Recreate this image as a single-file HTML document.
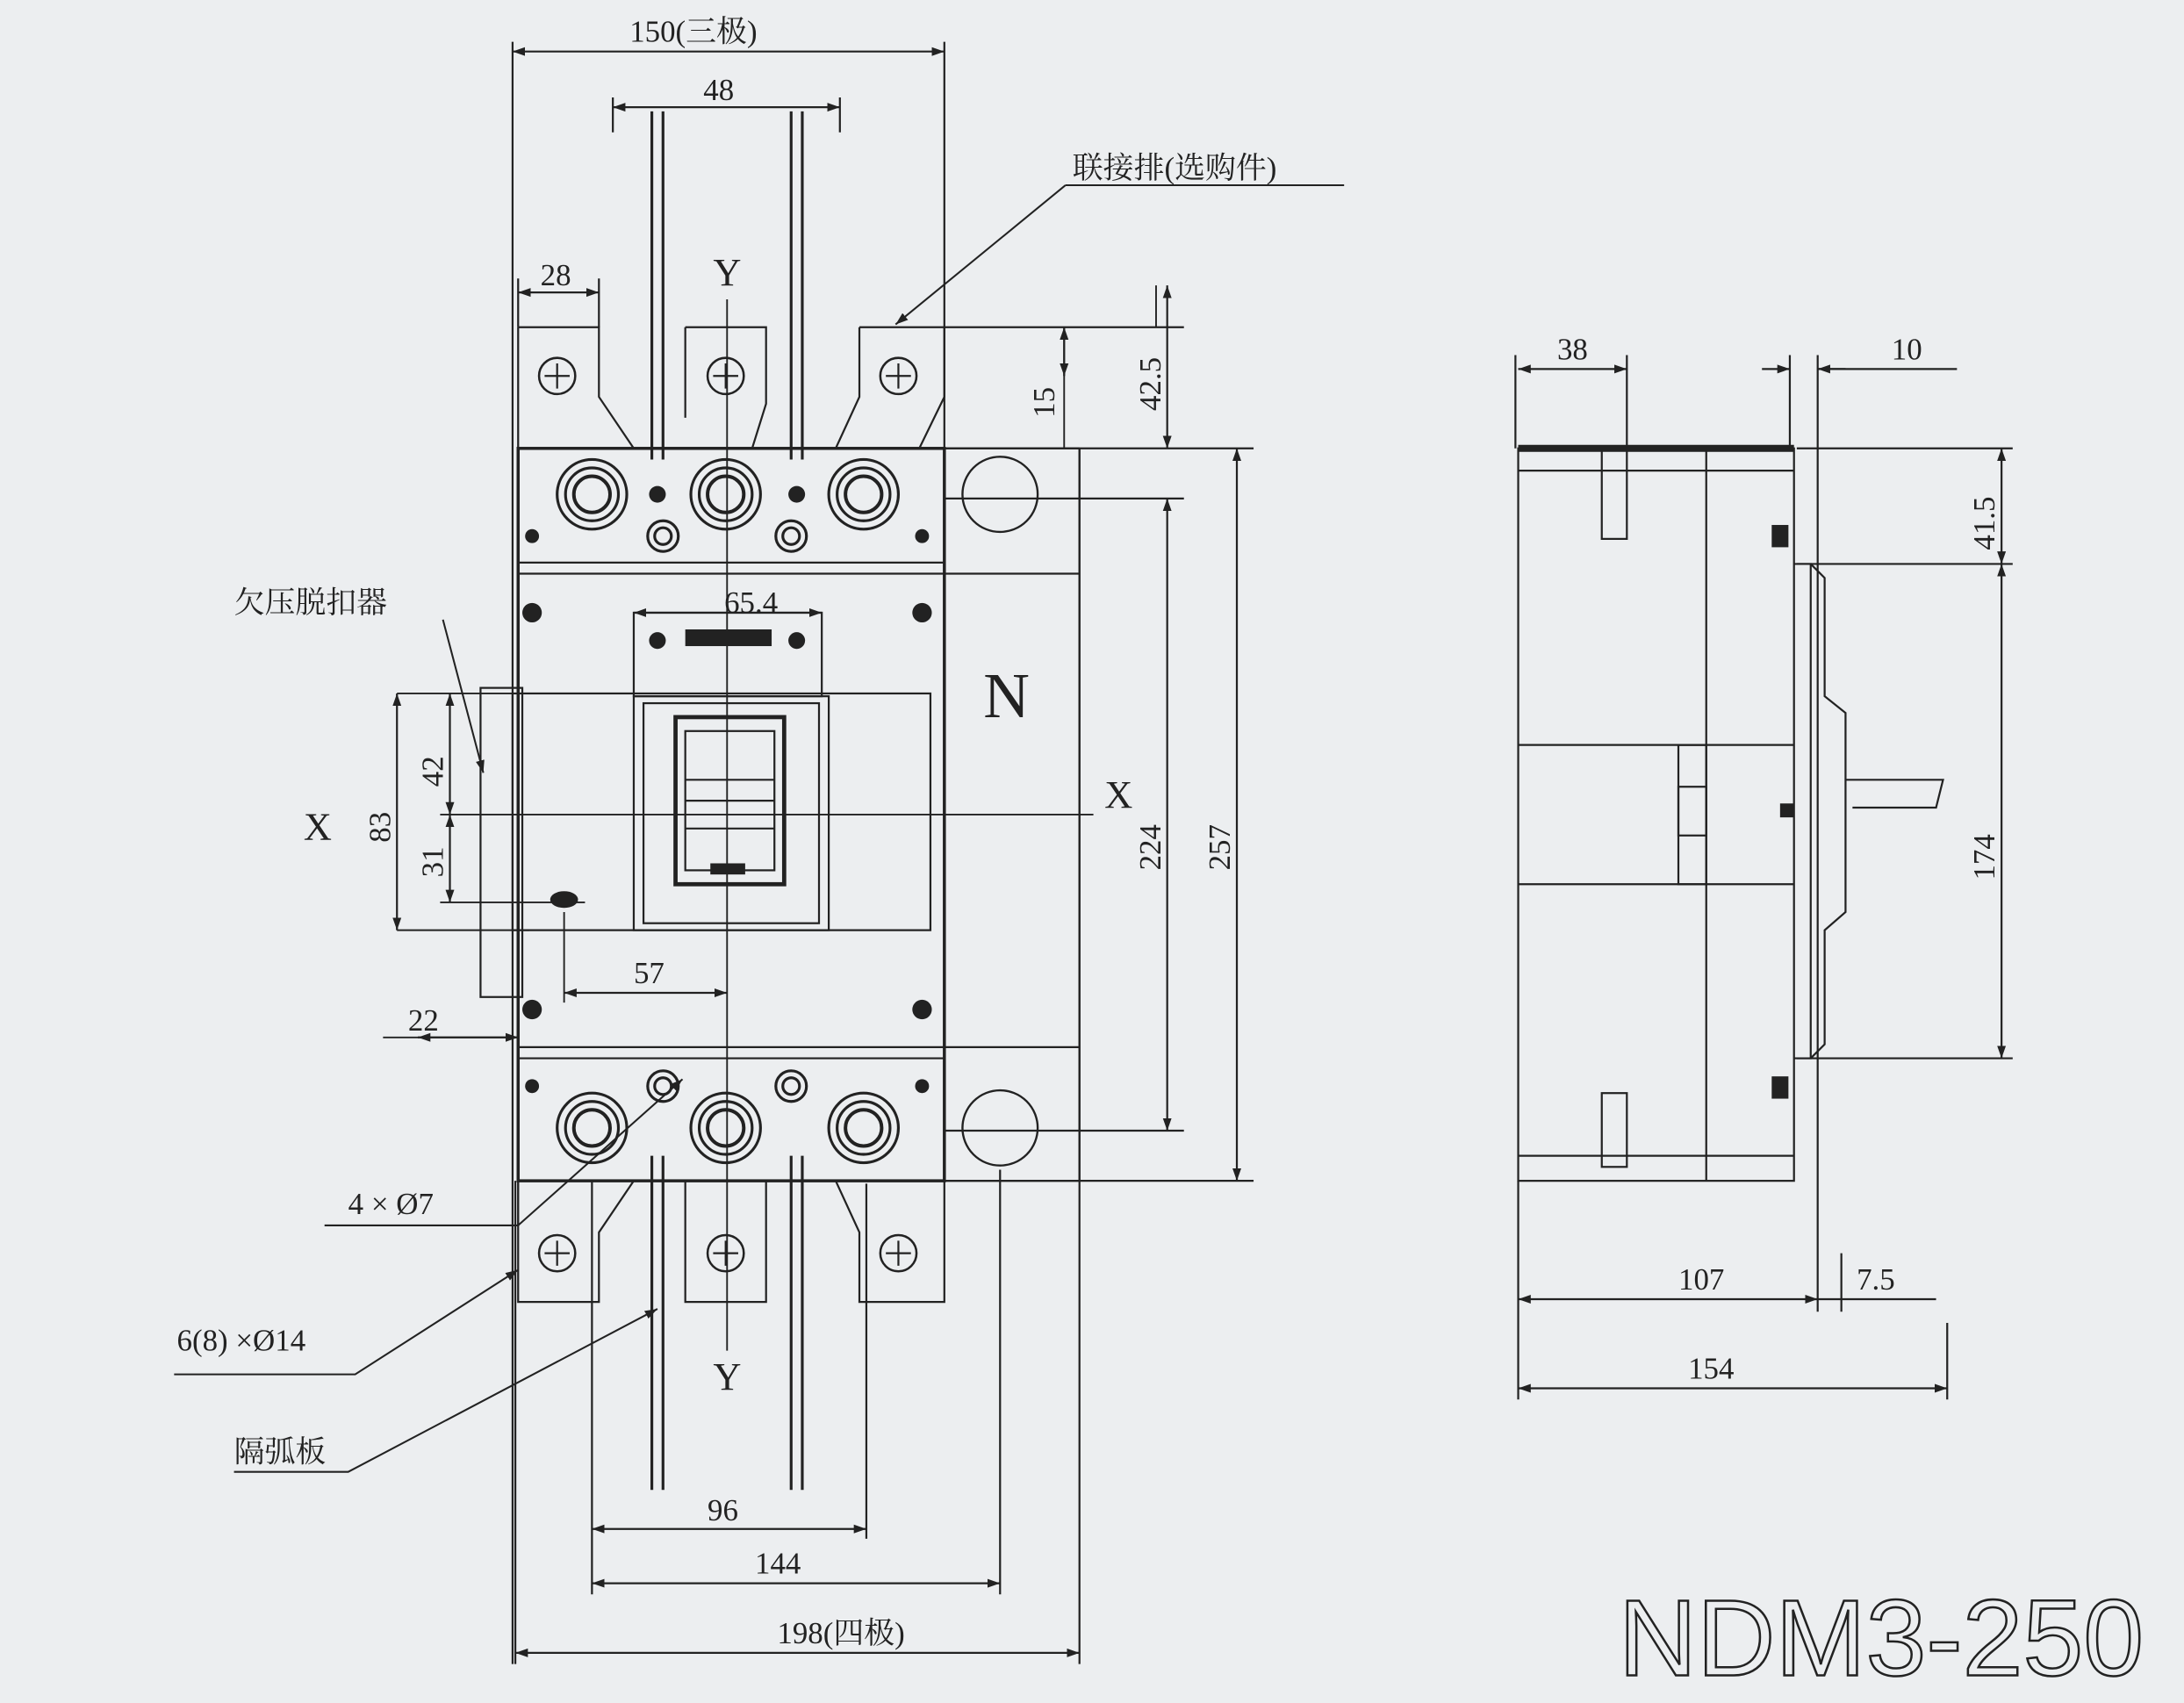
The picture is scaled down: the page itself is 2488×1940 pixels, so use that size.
<!DOCTYPE html>
<html><head><meta charset="utf-8">
<style>
html,body{margin:0;padding:0;background:#eceef0;}
svg{display:block;}
text{font-family:"Liberation Serif","Noto Serif CJK SC",serif;fill:#222;}
</style></head>
<body>
<svg width="2488" height="1940" viewBox="0 0 1568 1223" preserveAspectRatio="none" xmlns="http://www.w3.org/2000/svg">
<defs>
<marker id="a" viewBox="0 0 10 10" refX="10" refY="5" markerWidth="9" markerHeight="9" orient="auto-start-reverse" markerUnits="userSpaceOnUse"><path d="M0,1.5 L10,5 L0,8.5 z" fill="#222"/></marker>
<g id="tc"><circle r="13" fill="none" stroke="#222" stroke-width="1.6"/><path d="M-9,0H9M0,-9V9" stroke="#222" stroke-width="1.4"/></g>
<g id="nut"><circle r="25" fill="none" stroke="#222" stroke-width="2"/><circle r="19" fill="none" stroke="#222" stroke-width="2"/><circle r="13" fill="none" stroke="#222" stroke-width="2.5"/></g>
<g id="sc"><circle r="11" fill="none" stroke="#222" stroke-width="2"/><circle r="6" fill="none" stroke="#222" stroke-width="2"/></g>
</defs>
<rect width="1568" height="1223" fill="#eceef0"/>
<g stroke="#222" stroke-width="1.4" fill="none">
<!-- extension lines -->
<path d="M368,30V1195M678,30V322M775,322V1195M370,848V1195M425,848V1145M622,850V1105M718,840V1145"/>
<path d="M440,70V95M603,70V95M372,200V235M430,200V235M678,235H850M678,322H900M678,358H850M678,812H850M678,848H900"/>
<!-- top plates -->
<path d="M372,235H430V285L455,322M372,235V285L372,322"/>
<path d="M492,235H550V290L540,322M492,235V300"/>
<path d="M617,235H678V285L660,322M617,235V285L600,322"/>
<path d="M550,235V235"/>
<!-- bottom plates -->
<path d="M372,848V935H430V885L455,848"/>
<path d="M492,848V935H550V848"/>
<path d="M600,848L617,885V935H678V848"/>
<!-- body -->
<rect x="372" y="322" width="306" height="526" stroke-width="2.2"/>
<path d="M372,404H678M372,412H678M372,752H678M372,760H678"/>
<path d="M678,322H775M678,412H775M678,752H775M678,848H775"/>
<path d="M775,322V848" stroke-dasharray="none"/>
<!-- window -->
<rect x="368" y="498" width="300" height="170"/>
<rect x="455" y="500" width="140" height="168"/>
<rect x="462" y="505" width="126" height="158"/>
<rect x="485" y="515" width="78" height="120" stroke-width="3"/>
<rect x="492" y="525" width="64" height="100"/>
<path d="M492,560H556M492,575H556M492,595H556"/>
<rect x="345" y="494" width="30" height="222"/>
<rect x="455" y="440" width="135" height="60"/>
<!-- barriers -->
<path d="M468,80V330M476,80V330M568,80V330M576,80V330" stroke-width="2"/>
<path d="M468,830V1070M476,830V1070M568,830V1070M576,830V1070" stroke-width="2"/>
</g>
<g>
<use href="#tc" x="400" y="270"/><use href="#tc" x="521" y="270"/><use href="#tc" x="645" y="270"/>
<use href="#tc" x="400" y="900"/><use href="#tc" x="521" y="900"/><use href="#tc" x="645" y="900"/>
<use href="#nut" x="425" y="355"/><use href="#nut" x="521" y="355"/><use href="#nut" x="620" y="355"/>
<use href="#nut" x="425" y="810"/><use href="#nut" x="521" y="810"/><use href="#nut" x="620" y="810"/>
<use href="#sc" x="476" y="385"/><use href="#sc" x="568" y="385"/><use href="#sc" x="476" y="780"/><use href="#sc" x="568" y="780"/>
<circle cx="718" cy="355" r="27" fill="none" stroke="#222" stroke-width="1.5"/>
<circle cx="718" cy="810" r="27" fill="none" stroke="#222" stroke-width="1.5"/>
<g fill="#222">
<circle cx="382" cy="440" r="7"/><circle cx="662" cy="440" r="7"/><circle cx="382" cy="725" r="7"/><circle cx="662" cy="725" r="7"/>
<circle cx="472" cy="460" r="6"/><circle cx="572" cy="460" r="6"/>
<circle cx="472" cy="355" r="6"/><circle cx="572" cy="355" r="6"/>
<circle cx="382" cy="385" r="5"/><circle cx="662" cy="385" r="5"/><circle cx="382" cy="780" r="5"/><circle cx="662" cy="780" r="5"/>
<ellipse cx="405" cy="646" rx="10" ry="6"/>
<rect x="492" y="452" width="62" height="12"/>
<rect x="510" y="620" width="25" height="8"/>
</g>
</g>
<!-- center lines -->
<g stroke="#222" stroke-width="1.2" fill="none">
<path d="M522,215V970M330,585H785M285,498H380M285,668H380M316,585H340M316,648H420M275,745H370M405,655V720"/>
<path d="M764,235V322M830,205V235"/>
</g>
<!-- dimension lines -->
<g stroke="#222" stroke-width="1.4" fill="none" marker-start="url(#a)" marker-end="url(#a)">
<path d="M368,37H678"/><path d="M440,77H603"/><path d="M372,210H430"/>
<path d="M838,205V322"/><path d="M764,235V270"/>
<path d="M838,358V812"/><path d="M888,322V848"/>
<path d="M285,498V668"/><path d="M323,498V585"/><path d="M323,585V648"/>
<path d="M405,713H522"/><path d="M455,440H590"/>
<path d="M425,1098H622"/><path d="M425,1137H718"/><path d="M370,1187H775"/>
<path d="M300,745H372"/>
</g>
<!-- leaders -->
<g stroke="#222" stroke-width="1.3" fill="none">
<path d="M765,133H965"/><path d="M765,133L643,233" marker-end="url(#a)"/>
<path d="M318,445L347,555" marker-end="url(#a)"/>
<path d="M233,880H372L372,848M372,880L490,775" marker-end="url(#a)"/>
<path d="M125,987H255L372,912" marker-end="url(#a)"/>
<path d="M168,1057H250L472,940" marker-end="url(#a)"/>
</g>
<!-- labels -->
<g font-size="22">
<text x="452" y="30">150(三极)</text>
<text x="505" y="72">48</text>
<text x="388" y="205">28</text>
<text x="512" y="205" font-size="28">Y</text>
<text x="512" y="998" font-size="28">Y</text>
<text x="770" y="128">联接排(选购件)</text>
<text x="168" y="440">欠压脱扣器</text>
<text x="520" y="440">65.4</text>
<text x="706" y="515" font-size="46">N</text>
<text x="218" y="603" font-size="28">X</text>
<text x="793" y="580" font-size="28">X</text>
<text x="455" y="706">57</text>
<text x="293" y="740">22</text>
<text x="250" y="872">4 × Ø7</text>
<text x="127" y="970">6(8) ×Ø14</text>
<text x="168" y="1050">隔弧板</text>
<text x="508" y="1092">96</text>
<text x="542" y="1130">144</text>
<text x="558" y="1180">198(四极)</text>
<text transform="translate(280,605) rotate(-90)">83</text>
<text transform="translate(318,565) rotate(-90)">42</text>
<text transform="translate(318,630) rotate(-90)">31</text>
<text transform="translate(833,625) rotate(-90)">224</text>
<text transform="translate(883,625) rotate(-90)">257</text>
<text transform="translate(833,295) rotate(-90)">42.5</text>
<text transform="translate(757,300) rotate(-90)">15</text>
</g>
<!-- right view -->
<g stroke="#222" stroke-width="1.4" fill="none">
<rect x="1090" y="322" width="198" height="526"/>
<path d="M1090,322H1288" stroke-width="5"/>
<path d="M1090,535H1288M1090,635H1288M1225,322V848M1090,338H1288M1090,830H1288"/>
<rect x="1150" y="322" width="18" height="65"/>
<rect x="1150" y="785" width="18" height="53"/>
<rect x="1205" y="535" width="20" height="100"/>
<rect x="1205" y="565" width="20" height="35"/>
<path d="M1288,405H1300V760H1288"/>
<path d="M1300,405L1310,415V500L1325,512V655L1310,668V750L1300,760"/>
<path d="M1325,560H1395L1390,580H1330"/>
<path d="M1088,255V322M1168,255V322M1285,255V322M1305,255V942M1322,900V942M1398,950V1005M1090,848V1005M1290,322H1445M1290,405H1445M1290,760H1445"/>
</g>
<g fill="#222"><rect x="1272" y="377" width="12" height="16"/><rect x="1272" y="773" width="12" height="16"/><rect x="1278" y="577" width="10" height="10"/></g>
<g stroke="#222" stroke-width="1.4" fill="none" marker-start="url(#a)" marker-end="url(#a)">
<path d="M1090,265H1168"/><path d="M1437,322V405"/><path d="M1437,405V760"/>
<path d="M1090,933H1305"/><path d="M1090,997H1398"/>
</g>
<g stroke="#222" stroke-width="1.4" fill="none">
<path d="M1265,265H1285" marker-end="url(#a)"/><path d="M1305,265H1405"/><path d="M1305,265H1325" marker-start="url(#a)"/>
<path d="M1305,933H1322"/><path d="M1322,933H1390"/>
</g>
<g font-size="22">
<text x="1118" y="258">38</text>
<text x="1358" y="258">10</text>
<text x="1205" y="926">107</text>
<text x="1333" y="926">7.5</text>
<text x="1212" y="990">154</text>
<text transform="translate(1432,395) rotate(-90)">41.5</text>
<text transform="translate(1432,632) rotate(-90)">174</text>
</g>
<text x="1162" y="1203" font-size="78" style="font-family:'Liberation Sans',sans-serif;font-weight:300;fill:none;stroke:#222;stroke-width:1.6">NDM3-250</text>
</svg>
</body></html>
